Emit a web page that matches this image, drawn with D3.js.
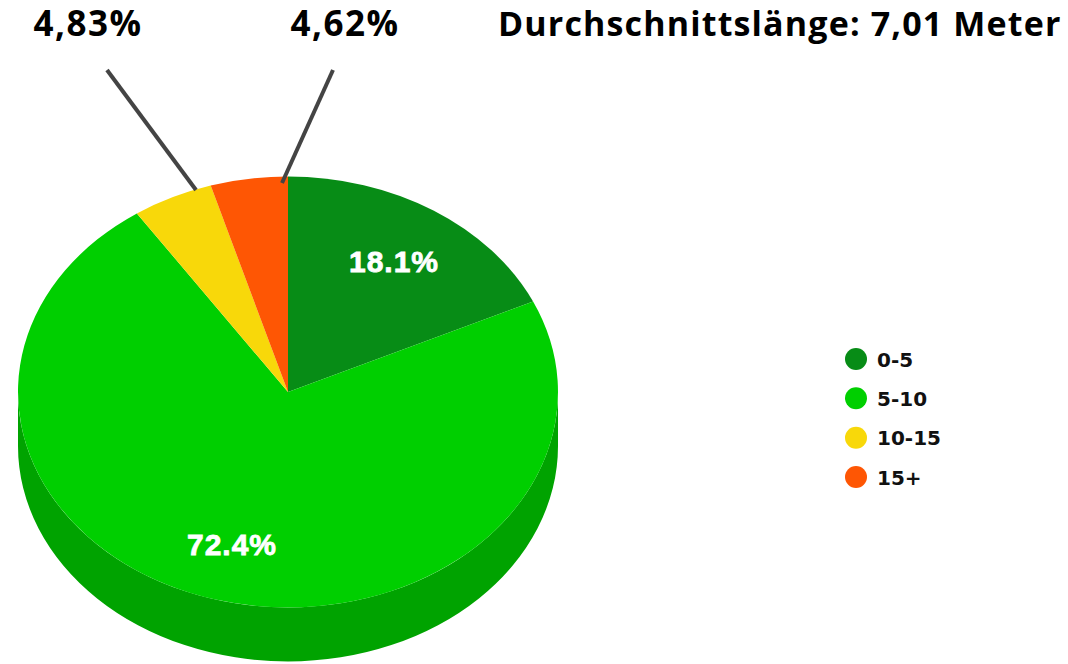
<!DOCTYPE html>
<html>
<head>
<meta charset="utf-8">
<script src="https://cdn.jsdelivr.net/npm/d3@7"></script>
<style>
  body { margin: 0; background: #fff; }
  svg { display: block; }
</style>
</head>
<body>
<div id="chart"></div>
<script>
var categories = ["0-5", "5-10", "10-15", "15+"];
var shares = [18.1, 72.4, 4.83, 4.62];
var pieLabels = ["18.1%", "72.4%", null, null];
var calloutLabels = [null, null, "4,83%", "4,62%"];
var colors = ["#078c16", "#00cf00", "#f8d80a", "#fe5604"];
var sideColors = ["#05700f", "#00a300", "#c8ae05", "#cc4403"];
var title = "Durchschnittslänge: 7,01 Meter";

var width = 1068, height = 664;
var cx = 288, cy = 392, rx = 270, ry = 215.5, depth = 54;

var svg = d3.select("#chart").append("svg")
    .attr("width", width)
    .attr("height", height);

var pie = d3.pie().sort(null).value(function(d) { return d; });
var arcs = pie(shares);

function pt(a, dy) {
    return [cx + rx * Math.sin(a), cy - ry * Math.cos(a) + (dy || 0)];
}

// side walls (only the front half shows)
arcs.forEach(function(d, i) {
    var a0 = Math.max(d.startAngle, Math.PI / 2);
    var a1 = Math.min(d.endAngle, Math.PI * 1.5);
    if (a1 <= a0) return;
    var p0 = pt(a0), p1 = pt(a1), q1 = pt(a1, depth), q0 = pt(a0, depth);
    var path = "M" + p0 + " A" + rx + " " + ry + " 0 0 1 " + p1 +
        " L" + q1 + " A" + rx + " " + ry + " 0 0 0 " + q0 + " Z";
    svg.append("path").attr("d", path).attr("fill", sideColors[i]);
});

// tops
arcs.forEach(function(d, i) {
    var p0 = pt(d.startAngle), p1 = pt(d.endAngle);
    var large = (d.endAngle - d.startAngle) > Math.PI ? 1 : 0;
    var path = "M" + cx + "," + cy + " L" + p0 + " A" + rx + " " + ry + " 0 " + large + " 1 " + p1 + " Z";
    svg.append("path").attr("d", path).attr("fill", colors[i]);
});

// in-slice labels
var labelPos = [[394, 272], [232, 555]];
arcs.forEach(function(d, i) {
    if (!pieLabels[i]) return;
    svg.append("text")
        .attr("x", labelPos[i][0]).attr("y", labelPos[i][1])
        .attr("text-anchor", "middle")
        .attr("font-family", "Liberation Sans, Arial, sans-serif")
        .attr("font-weight", "bold")
        .attr("font-size", 30)
        .attr("letter-spacing", 1)
        .attr("stroke", "#fff").attr("stroke-width", 0.8)
        .attr("fill", "#fff")
        .text(pieLabels[i]);
});

// callouts
var calloutText = [null, null, [88, 36], [345, 36]];
var calloutLine = [null, null, [[107, 70], [196, 190]], [[333, 70], [282, 183]]];
arcs.forEach(function(d, i) {
    if (!calloutLabels[i]) return;
    svg.append("line")
        .attr("x1", calloutLine[i][0][0]).attr("y1", calloutLine[i][0][1])
        .attr("x2", calloutLine[i][1][0]).attr("y2", calloutLine[i][1][1])
        .attr("stroke", "#444").attr("stroke-width", 4);
    svg.append("text")
        .attr("x", calloutText[i][0]).attr("y", calloutText[i][1])
        .attr("text-anchor", "middle")
        .attr("font-family", "Open Sans, sans-serif")
        .attr("font-weight", "bold")
        .attr("font-size", 35)
        .attr("letter-spacing", 1.5)
        .attr("fill", "#000")
        .text(calloutLabels[i]);
});

svg.append("text")
    .attr("x", 498).attr("y", 36)
    .attr("font-family", "Open Sans, sans-serif")
    .attr("font-weight", "bold")
    .attr("font-size", 34)
    .attr("letter-spacing", 1.15)
    .attr("fill", "#000")
    .text(title);

// legend
var ly = d3.scalePoint().domain(categories).range([359, 477]);
var legend = svg.selectAll("g.legend")
    .data(categories)
    .enter().append("g")
    .attr("class", "legend")
    .attr("transform", function(d) { return "translate(856," + ly(d) + ")"; });
legend.append("circle").attr("r", 11).attr("fill", function(d, i) { return colors[i]; });
legend.append("text")
    .attr("x", 21).attr("y", 7.5)
    .attr("font-family", "DejaVu Sans, sans-serif")
    .attr("font-weight", "bold")
    .attr("font-size", 20)
    .attr("fill", "#111")
    .text(function(d) { return d; });
</script>
</body>
</html>
